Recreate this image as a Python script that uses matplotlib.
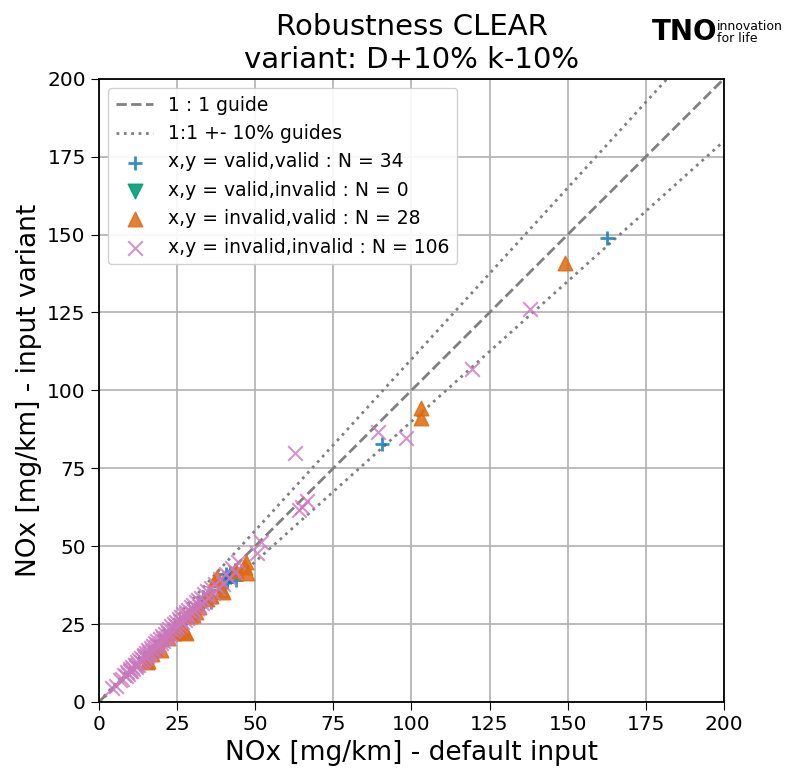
import numpy as np
import matplotlib
matplotlib.use("Agg")
import matplotlib.pyplot as plt

# invalid,invalid  (N = 106)
inv_inv_x = [138.0, 119.5, 62.7, 98.2, 89.3, 65.0, 66.5, 64.0, 52.0, 50.5,
             4.2, 5.5, 6.8, 7.5, 8.1, 8.6, 9.0, 9.4, 9.9, 10.3,
             10.7, 11.0, 11.4, 11.8, 12.2, 12.5, 12.9, 13.3, 13.6, 14.0,
             14.3, 14.7, 15.0, 15.4, 15.8, 16.1, 16.5, 16.9, 17.2, 17.6,
             18.0, 18.3, 18.7, 19.1, 19.5, 19.8, 20.2, 20.6, 21.0, 21.3,
             21.7, 22.1, 22.5, 22.8, 23.2, 23.6, 24.0, 24.3, 24.7, 25.1,
             25.5, 25.8, 26.2, 26.6, 27.0, 27.4, 27.8, 28.1, 28.5, 28.9,
             29.3, 29.7, 30.1, 30.5, 30.9, 31.3, 31.7, 32.1, 32.5, 33.0,
             33.5, 34.0, 34.6, 35.2, 35.8, 36.5, 37.2, 38.0, 38.8, 39.6,
             40.5, 41.5, 42.5, 43.5, 44.5, 10.0, 12.0, 14.5, 16.0, 18.5,
             20.5, 22.0, 24.5, 26.0, 28.0, 30.0]
inv_inv_y = [126.0, 107.0, 80.0, 84.7, 86.7, 62.5, 64.5, 61.5, 51.4, 47.8,
             4.5, 5.2, 7.0, 7.3, 8.6, 8.2, 9.5, 9.0, 10.4, 9.8,
             11.2, 10.5, 12.0, 11.3, 12.8, 12.0, 13.4, 12.7, 14.2, 13.5,
             15.0, 14.0, 15.7, 14.8, 16.5, 15.4, 17.2, 16.2, 17.9, 16.8,
             18.8, 17.6, 19.5, 18.3, 20.3, 19.0, 21.0, 19.7, 21.8, 20.4,
             22.6, 21.2, 23.4, 21.9, 24.2, 22.6, 25.0, 23.3, 25.7, 24.0,
             26.5, 24.7, 27.2, 25.5, 28.1, 26.2, 28.9, 26.9, 29.6, 27.7,
             30.4, 28.4, 31.2, 29.2, 32.0, 30.0, 32.8, 30.7, 33.5, 31.6,
             34.5, 32.5, 35.5, 33.7, 36.6, 35.0, 38.0, 36.4, 39.5, 37.9,
             41.2, 39.8, 43.0, 41.6, 45.0, 10.0, 11.8, 14.6, 16.1, 18.4,
             20.6, 22.1, 24.3, 26.0, 28.2, 29.8]

# valid,valid  (N = 34)
val_val_x = [162.5, 90.5, 44.0, 43.5, 42.0, 41.0, 41.5, 40.5, 40.0, 39.0,
             36.0, 34.0, 33.3, 33.0, 32.0, 31.0, 30.0, 29.0, 28.0, 27.0,
             26.0, 25.0, 24.0, 23.0, 21.8, 21.0, 20.0, 19.0, 18.0, 17.0,
             16.0, 14.5, 35.0, 38.0]
val_val_y = [149.0, 82.8, 39.2, 42.4, 41.4, 38.5, 40.0, 41.0, 39.0, 37.5,
             32.2, 32.5, 33.7, 31.5, 30.8, 30.0, 29.5, 28.0, 27.0, 26.0,
             25.5, 24.0, 23.5, 22.0, 19.9, 20.5, 19.5, 18.0, 17.5, 16.0,
             15.5, 14.0, 34.0, 36.0]

# valid,invalid  (N = 0)
val_inv_x = []
val_inv_y = []

# invalid,valid  (N = 28)
inv_val_x = [149.0, 103.0, 103.0, 46.7, 47.0, 47.4, 37.8, 37.0, 39.7, 39.4,
             27.5, 28.0, 20.0, 15.4, 15.7, 30.0, 32.0, 25.0, 22.0, 18.0,
             34.5, 24.0, 29.0, 26.0, 36.0, 44.0, 31.0, 17.0]
inv_val_y = [141.0, 94.4, 91.0, 43.3, 45.0, 41.4, 40.0, 39.0, 35.3, 36.0,
             22.5, 22.0, 16.7, 12.8, 13.2, 28.0, 30.5, 23.0, 20.5, 17.0,
             33.0, 22.0, 27.5, 25.5, 34.0, 42.0, 29.0, 15.5]

ticks = [0, 25, 50, 75, 100, 125, 150, 175, 200]

fig = plt.figure(figsize=(7.92, 7.73), dpi=100)
ax = fig.add_axes([0.125, 0.092, 0.789, 0.806])

line = np.array([0, 200])
ax.plot(line, line, "--", color="gray", linewidth=2, label="1 : 1 guide", zorder=2)
ax.plot(line, 1.1 * line, ":", color="gray", linewidth=2, label="1:1 +- 10% guides", zorder=2)
ax.plot(line, 0.9 * line, ":", color="gray", linewidth=2, zorder=2)

ax.scatter(val_val_x, val_val_y, marker="+", s=110, linewidths=2, color="#0173b2", alpha=0.8,
           label=f"x,y = valid,valid : N = {len(val_val_x)}", zorder=3)
ax.scatter(val_inv_x, val_inv_y, marker="v", s=110, color="#029e73", alpha=0.9,
           label=f"x,y = valid,invalid : N = {len(val_inv_x)}", zorder=3)
ax.scatter(inv_val_x, inv_val_y, marker="^", s=110, color="#de6a10", alpha=0.85,
           label=f"x,y = invalid,valid : N = {len(inv_val_x)}", zorder=3)
ax.scatter(inv_inv_x, inv_inv_y, marker="x", s=110, linewidths=1.5, color="#cc78bc", alpha=0.8,
           label=f"x,y = invalid,invalid : N = {len(inv_inv_x)}", zorder=3)

ax.set_xlim(0, 200)
ax.set_ylim(0, 200)
ax.set_xticks(ticks)
ax.set_yticks(ticks)
ax.tick_params(labelsize=14.5, length=6)
ax.grid(True, color="#b0b0b0", linewidth=1.2)
ax.set_axisbelow(True)
for s in ax.spines.values():
    s.set_linewidth(1.3)

ax.set_xlabel("NOx [mg/km] - default input", fontsize=19)
ax.set_ylabel("NOx [mg/km] - input variant", fontsize=19)
ax.set_title("Robustness CLEAR\nvariant: D+10% k-10%", fontsize=21, pad=8)
ax.legend(loc="upper left", fontsize=13.5, framealpha=0.9)

# logo
fig.text(0.823, 0.958, "TNO", fontsize=20, fontweight="black", ha="left", va="center")
fig.text(0.905, 0.958, "innovation\nfor life", fontsize=9, ha="left", va="center", linespacing=0.95)

fig.savefig("out.png", dpi=100)
